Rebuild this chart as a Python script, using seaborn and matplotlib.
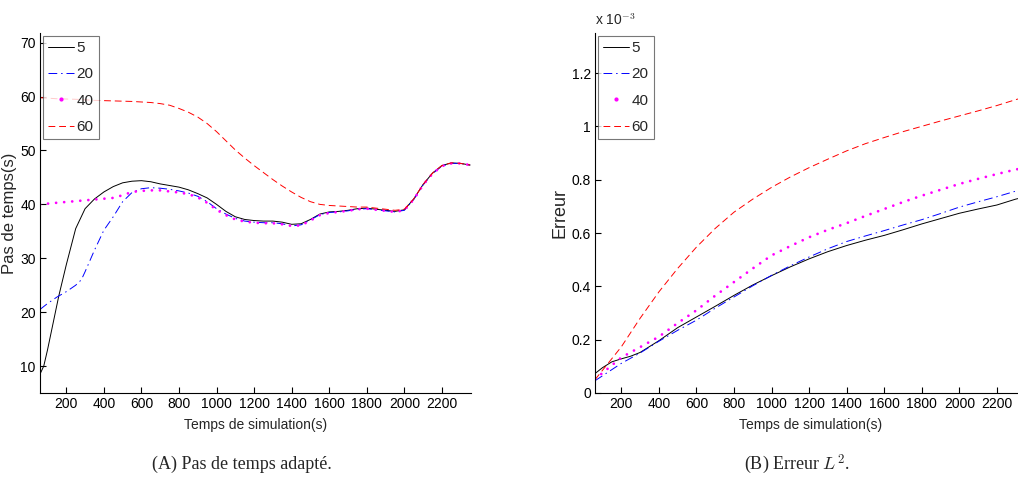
import numpy as np
import pandas as pd
import matplotlib
matplotlib.use("Agg")
import matplotlib.pyplot as plt
from matplotlib.lines import Line2D
from matplotlib.ticker import FormatStrFormatter
import seaborn as sns

# --- (A) time step vs simulation time, for 4 settings ---
labels = ["5", "20", "40", "60"]

t5 = [60, 80, 100, 130, 160, 200, 250, 300, 350, 400, 450, 500, 550, 600, 650, 700,
      750, 800, 850, 900, 950, 1000, 1050, 1100, 1150, 1200, 1250, 1300, 1350, 1400,
      1450, 1500, 1550, 1600, 1650, 1700, 1750, 1800, 1850, 1900, 1950, 2000, 2050,
      2100, 2150, 2200, 2250, 2300, 2350]
dt5 = [8.5, 10.0, 13.0, 18.0, 23.0, 28.8, 35.5, 39.2, 41.0, 42.3, 43.3, 44.0, 44.3,
       44.4, 44.2, 43.8, 43.5, 43.2, 42.7, 42.0, 41.2, 40.0, 38.7, 37.7, 37.2, 37.0,
       36.9, 36.9, 36.7, 36.3, 36.4, 37.2, 38.2, 38.6, 38.7, 38.9, 39.2, 39.3, 39.1,
       38.9, 38.7, 39.0, 41.0, 43.7, 45.8, 47.2, 47.7, 47.6, 47.3]

t20 = [60, 100, 150, 200, 250, 280, 300, 350, 400, 450, 500, 550, 600, 650, 700, 750,
       800, 850, 900, 950, 1000, 1050, 1100, 1150, 1200, 1250, 1300, 1350, 1400, 1450,
       1500, 1550, 1600, 1650, 1700, 1750, 1800, 1850, 1900, 1950, 2000, 2050, 2100,
       2150, 2200, 2250, 2300, 2350]
dt20 = [20.5, 21.6, 22.8, 23.8, 25.0, 26.0, 27.5, 31.5, 35.2, 37.7, 40.5, 42.2, 42.9,
        43.1, 43.0, 42.8, 42.5, 42.1, 41.5, 40.5, 39.2, 38.2, 37.4, 36.9, 36.7, 36.6,
        36.6, 36.4, 36.0, 36.2, 37.1, 38.1, 38.5, 38.6, 38.8, 39.1, 39.2, 39.0, 38.8,
        38.6, 38.9, 40.9, 43.6, 45.7, 47.1, 47.6, 47.6, 47.3]

t40 = [60, 150, 250, 350, 450, 500, 550, 600, 650, 700, 750, 800, 850, 900, 950, 1000,
       1050, 1100, 1150, 1200, 1250, 1300, 1350, 1400, 1450, 1500, 1550, 1600, 1650,
       1700, 1750, 1800, 1850, 1900, 1950, 2000, 2050, 2100, 2150, 2200, 2250, 2300,
       2350]
dt40 = [40.0, 40.3, 40.6, 40.9, 41.2, 41.7, 42.3, 42.5, 42.6, 42.6, 42.4, 42.2, 41.9,
        41.3, 40.3, 39.0, 38.0, 37.2, 36.8, 36.6, 36.5, 36.5, 36.3, 36.0, 36.1, 37.0,
        38.0, 38.4, 38.6, 38.8, 39.1, 39.2, 39.0, 38.8, 38.6, 38.9, 40.9, 43.6, 45.7,
        47.1, 47.6, 47.6, 47.3]

t60 = [60, 150, 250, 350, 450, 550, 650, 700, 750, 800, 850, 900, 950, 1000, 1050,
       1100, 1150, 1200, 1250, 1300, 1350, 1400, 1450, 1500, 1550, 1600, 1650, 1700,
       1750, 1800, 1850, 1900, 1950, 2000, 2050, 2100, 2150, 2200, 2250, 2300, 2350]
dt60 = [59.8, 59.6, 59.5, 59.3, 59.2, 59.1, 58.9, 58.7, 58.4, 57.8, 57.1, 56.2, 55.0,
        53.5, 51.8, 50.1, 48.6, 47.2, 45.9, 44.6, 43.4, 42.3, 41.3, 40.5, 40.0, 39.8,
        39.7, 39.6, 39.5, 39.5, 39.3, 39.1, 38.9, 39.1, 41.0, 43.7, 45.8, 47.2, 47.7,
        47.6, 47.3]

# --- (B) L2 error (in units of 1e-3) ---
te = [60, 200, 300, 400, 500, 600, 700, 800, 900, 1000, 1100, 1200, 1300, 1400, 1500,
      1600, 1700, 1800, 1900, 2000, 2100, 2200, 2300, 2350]
te5 = [60, 100, 150, 200, 250, 300, 400, 500, 600, 700, 800, 900, 1000, 1100, 1200,
       1300, 1400, 1500, 1600, 1700, 1800, 1900, 2000, 2100, 2200, 2300, 2350]
err5 = [0.073, 0.095, 0.117, 0.128, 0.138, 0.152, 0.196, 0.245, 0.285, 0.325, 0.366,
        0.405, 0.440, 0.473, 0.503, 0.530, 0.553, 0.573, 0.591, 0.612, 0.634, 0.654,
        0.674, 0.690, 0.705, 0.727, 0.735]
err20 = [0.046, 0.111, 0.150, 0.194, 0.235, 0.273, 0.318, 0.360, 0.402, 0.441, 0.477,
         0.510, 0.541, 0.568, 0.589, 0.609, 0.630, 0.650, 0.673, 0.697, 0.717, 0.736,
         0.757, 0.765]
err40 = [0.052, 0.133, 0.172, 0.211, 0.262, 0.310, 0.365, 0.416, 0.467, 0.516, 0.551,
         0.584, 0.612, 0.637, 0.664, 0.690, 0.716, 0.740, 0.762, 0.784, 0.803, 0.821,
         0.838, 0.845]
err60 = [0.050, 0.173, 0.280, 0.379, 0.467, 0.547, 0.617, 0.678, 0.727, 0.771, 0.810,
         0.845, 0.877, 0.908, 0.935, 0.958, 0.980, 1.000, 1.020, 1.039, 1.058, 1.078,
         1.100, 1.110]

sns.set_style("ticks")
plt.rcParams["font.family"] = ["Liberation Sans Narrow", "Liberation Sans", "DejaVu Sans"]
plt.rcParams["mathtext.fontset"] = "cm"

styles = {
    "5": dict(color="black", lw=0.7, linestyle="-"),
    "20": dict(color="#0000ff", lw=0.7, linestyle=(0, (9, 4, 1.5, 4))),
    "40": dict(color="#ff00ff", lw=2.0, linestyle=(0, (0.01, 2.9)), dash_capstyle="round"),
    "60": dict(color="#ff0000", lw=0.7, linestyle=(0, (7, 4))),
}

fig = plt.figure(figsize=(10.18, 4.84), dpi=100)
W, H = 1018, 484
ax1 = fig.add_axes([40 / W, (H - 393) / H, 431 / W, 360 / H])
ax2 = fig.add_axes([595 / W, (H - 393) / H, 431 / W, 360 / H])

left_series = [(t5, dt5), (t20, dt20), (t40, dt40), (t60, dt60)]
right_series = [(te5, err5), (te, err20), (te, err40), (te, err60)]

for lab, (x, y) in zip(labels, left_series):
    sns.lineplot(x=x, y=y, ax=ax1, legend=False, **styles[lab])
for lab, (x, y) in zip(labels, right_series):
    sns.lineplot(x=x, y=y, ax=ax2, legend=False, **styles[lab])


def legend_handles():
    hs = []
    for lab in labels:
        s = styles[lab]
        if lab == "40":
            hs.append(Line2D([], [], color=s["color"], marker=".", markersize=4, linestyle="none"))
        else:
            hs.append(Line2D([], [], color=s["color"], lw=s["lw"], linestyle=s["linestyle"]))
    return hs


for ax in (ax1, ax2):
    sns.despine(ax=ax)
    ax.set_xlim(60, 2355)
    ax.set_xticks(range(200, 2201, 200))
    ax.tick_params(direction="in", length=4, width=0.8, labelsize=10, pad=3, colors="black")
    for sp in ax.spines.values():
        sp.set_linewidth(0.8)
        sp.set_color("black")
    ax.set_xlabel("Temps de simulation(s)", fontsize=10, labelpad=5)
    leg = ax.legend(legend_handles(), labels, loc="upper left",
                    bbox_to_anchor=(0.007, 0.992), fontsize=11, frameon=True,
                    fancybox=False, handlelength=1.7, handletextpad=0.15,
                    borderpad=0.35, labelspacing=0.8, borderaxespad=0)
    leg.get_frame().set_edgecolor("#555555")
    leg.get_frame().set_linewidth(0.8)

ax1.set_ylim(5, 71.8)
ax1.set_yticks(range(10, 71, 10))
ax1.set_ylabel("Pas de temps(s)", fontsize=12, family=["Liberation Sans", "DejaVu Sans"], labelpad=2)

ax2.set_ylim(0, 1.35)
ax2.set_yticks([0, 0.2, 0.4, 0.6, 0.8, 1.0, 1.2])
ax2.yaxis.set_major_formatter(FormatStrFormatter("%g"))
ax2.set_ylabel("Erreur", fontsize=13, family=["Liberation Sans", "DejaVu Sans"], labelpad=2)
ax2.text(0.0, 1.015, r"x 10$^{-3}$", transform=ax2.transAxes, fontsize=10,
         ha="left", va="bottom")

cap_kw = dict(fontsize=13, ha="center", va="center", family=["Liberation Serif", "DejaVu Serif"])
fig.text(242 / W, (H - 464) / H, "(A) Pas de temps adapté.", **cap_kw)
fig.text(797 / W, (H - 464) / H, r"(B) Erreur $L^2$.", **cap_kw)

fig.savefig("out.png", dpi=100)
